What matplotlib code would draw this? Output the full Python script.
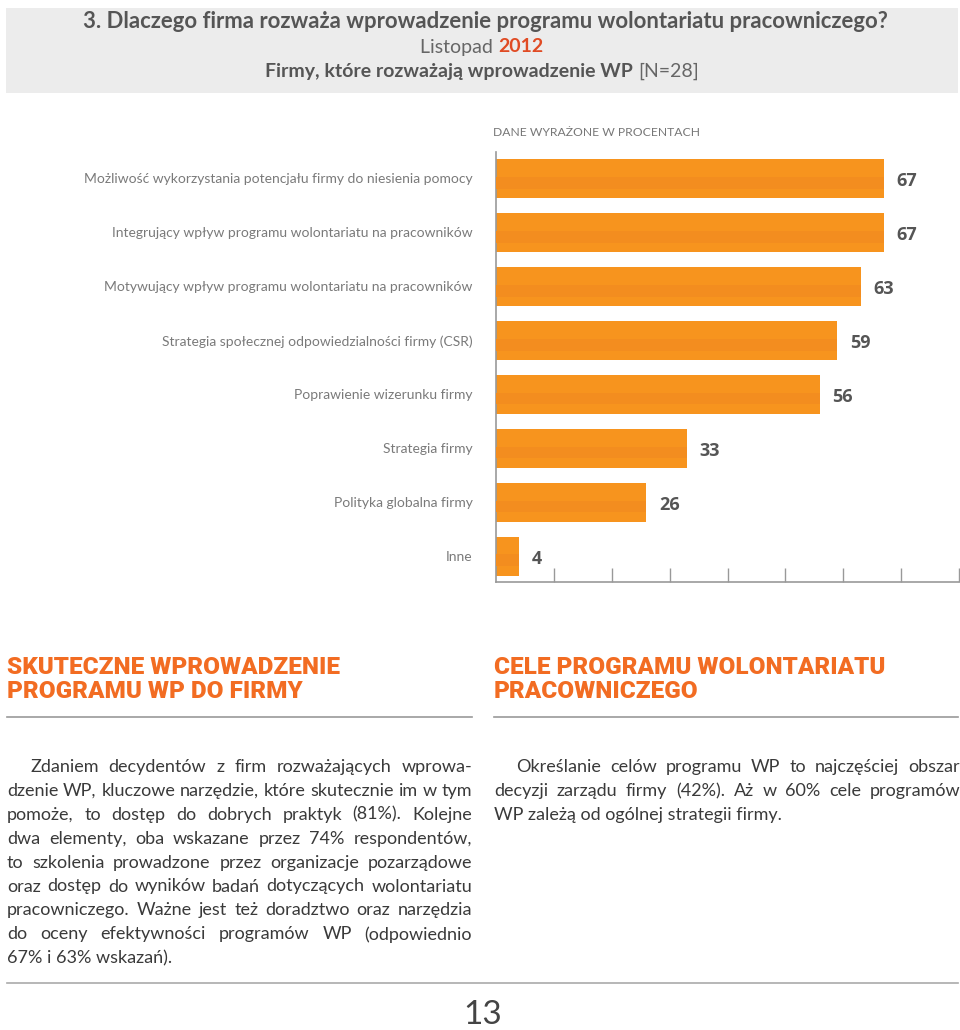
import numpy as np
import matplotlib
matplotlib.use('Agg')
import matplotlib.pyplot as plt
from matplotlib.patches import Rectangle

W, H = 960, 1030

categories = [
    'Możliwość wykorzystania potencjału firmy do niesienia pomocy',
    'Integrujący wpływ programu wolontariatu na pracowników',
    'Motywujący wpływ programu wolontariatu na pracowników',
    'Strategia społecznej odpowiedzialności firmy (CSR)',
    'Poprawienie wizerunku firmy',
    'Strategia firmy',
    'Polityka globalna firmy',
    'Inne',
]
values = [67, 67, 63, 59, 56, 33, 26, 4]
xticks = [10, 20, 30, 40, 50, 60, 70, 80]

title = '3. Dlaczego firma rozważa wprowadzenie programu wolontariatu pracowniczego?'
subtitle_a, subtitle_b = 'Listopad ', '2012'
base_a, base_b = 'Firmy, które rozważają wprowadzenie WP ', '[N=28]'
unit_note = 'DANE WYRAŻONE W PROCENTACH'

left_head = ['SKUTECZNE WPROWADZENIE', 'PROGRAMU WP DO FIRMY']
right_head = ['CELE PROGRAMU WOLONTARIATU', 'PRACOWNICZEGO']
left_text = [
    'Zdaniem decydentów z firm rozważających wprowa-',
    'dzenie WP, kluczowe narzędzie, które skutecznie im w tym',
    'pomoże, to dostęp do dobrych praktyk (81%). Kolejne',
    'dwa elementy, oba wskazane przez 74% respondentów,',
    'to szkolenia prowadzone przez organizacje pozarządowe',
    'oraz dostęp do wyników badań dotyczących wolontariatu',
    'pracowniczego. Ważne jest też doradztwo oraz narzędzia',
    'do oceny efektywności programów WP (odpowiednio',
    '67% i 63% wskazań).',
]
right_text = [
    'Określanie celów programu WP to najczęściej obszar',
    'decyzji zarządu firmy (42%). Aż w 60% cele programów',
    'WP zależą od ogólnej strategii firmy.',
]
page_no = '13'

ORANGE = '#f7941e'
ORANGE_D = '#f38d1f'
HEAD = '#f26c22'
GREY = '#555555'
BODY = ['Lato', 'DejaVu Sans']

fig = plt.figure(figsize=(W / 100, H / 100), dpi=100)
fig.patch.set_facecolor('white')
r = fig.canvas.get_renderer()


def fx(x):
    return x / W


def fy(y):
    return 1 - y / H


def fit(t, width):
    # scale font so the text spans the given pixel width
    w = t.get_window_extent(r).width
    t.set_fontsize(t.get_fontsize() * width / w)


# header box
fig.patches.append(Rectangle((fx(6), fy(93)), fx(952), 85 / H, transform=fig.transFigure,
                             facecolor='#ececec', edgecolor='none', zorder=0))
tt = fig.text(fx(485), fy(21), title, ha='center', va='center', fontsize=15,
              family=BODY, weight='bold', color=GREY)
fit(tt, 810)


def two_part(y, a, b, kw_a, kw_b, cx=482):
    ta = fig.text(0, fy(y), a, va='center', **kw_a)
    tb = fig.text(0, fy(y), b, va='center', **kw_b)
    wa = ta.get_window_extent(r).width
    wb = tb.get_window_extent(r).width
    x0 = cx - (wa + wb) / 2
    ta.set_x(fx(x0))
    tb.set_x(fx(x0 + wa))


two_part(47, subtitle_a, subtitle_b,
         dict(fontsize=14, family=BODY, color='#666666'),
         dict(fontsize=14, family=BODY, weight='bold', color='#e04b24'))
two_part(71, base_a, base_b,
         dict(fontsize=14, family=BODY, weight='bold', color=GREY),
         dict(fontsize=14, family=BODY, color='#666666'))

fig.text(fx(493), fy(132), unit_note, ha='left', va='center', fontsize=8.7,
         family=BODY, color='#777777')

# bar chart
ax = fig.add_axes([fx(496), fy(582), 463 / W, 430 / H])
y = np.arange(len(values))
ax.barh(y, values, height=0.72, color=ORANGE, zorder=2)
ax.barh(y + 0.08, values, height=0.22, color=ORANGE_D, zorder=3)
for yi, v in zip(y, values):
    ax.annotate(str(v), (v, yi), xytext=(9, -2), textcoords='offset points',
                ha='left', va='center', fontsize=13, weight='bold',
                family=['Open Sans', 'DejaVu Sans'], color=GREY)
ax.set_xlim(0, 80)
ax.set_ylim(7.48, -0.49)
ax.set_xticks(xticks)
ax.set_xticklabels([])
ax.tick_params(axis='x', direction='in', length=10, width=1, color='#999999')
ax.set_yticks(y)
ax.set_yticklabels(categories, family=BODY, fontsize=10.0, color='#7a7a7a')
ax.tick_params(axis='y', length=0, pad=17)
for s in ['top', 'right']:
    ax.spines[s].set_visible(False)
for s in ['left', 'bottom']:
    ax.spines[s].set_color('#999999')
    ax.spines[s].set_linewidth(1.2)

# lower sections
head_kw = dict(fontsize=17.5, family=['Roboto', 'DejaVu Sans'],
               weight='black', color=HEAD, va='center', ha='left')
for i, line in enumerate(left_head):
    fig.text(fx(7), fy(668 + 24 * i), line, **head_kw)
for i, line in enumerate(right_head):
    fig.text(fx(494), fy(668 + 24 * i), line, **head_kw)

for x0, x1 in [(7, 472), (494, 958)]:
    fig.add_artist(plt.Line2D([fx(x0), fx(x1)], [fy(717), fy(717)],
                              transform=fig.transFigure, color='#999999', lw=1.2))
fig.add_artist(plt.Line2D([fx(7), fx(958)], [fy(983), fy(983)],
                          transform=fig.transFigure, color='#aaaaaa', lw=1.2))

body_kw = dict(fontsize=13, family=BODY, color='#3a3a3a', va='center', ha='left')


def justify(lines, x0, x1, indent, y0, step=23.9):
    for i, line in enumerate(lines):
        start = x0 + (indent if i == 0 else 0)
        yy = fy(y0 + step * i)
        if i == len(lines) - 1 and len(lines) > 1:
            fig.text(fx(start), yy, line, **body_kw)
            continue
        words = line.split(' ')
        ts = [fig.text(0, yy, w, **body_kw) for w in words]
        ws = [t.get_window_extent(r).width for t in ts]
        gap = (x1 - start - sum(ws)) / max(len(words) - 1, 1)
        x = start
        for t, w in zip(ts, ws):
            t.set_x(fx(x))
            x += w + gap


justify(left_text, 7, 472, 23, 767)
justify(right_text, 494, 960, 22, 767)

fig.text(fx(483), fy(1015), page_no, ha='center', va='center', fontsize=24,
         family=BODY, color='#444444')

fig.savefig('out.png', dpi=100, facecolor='white')
